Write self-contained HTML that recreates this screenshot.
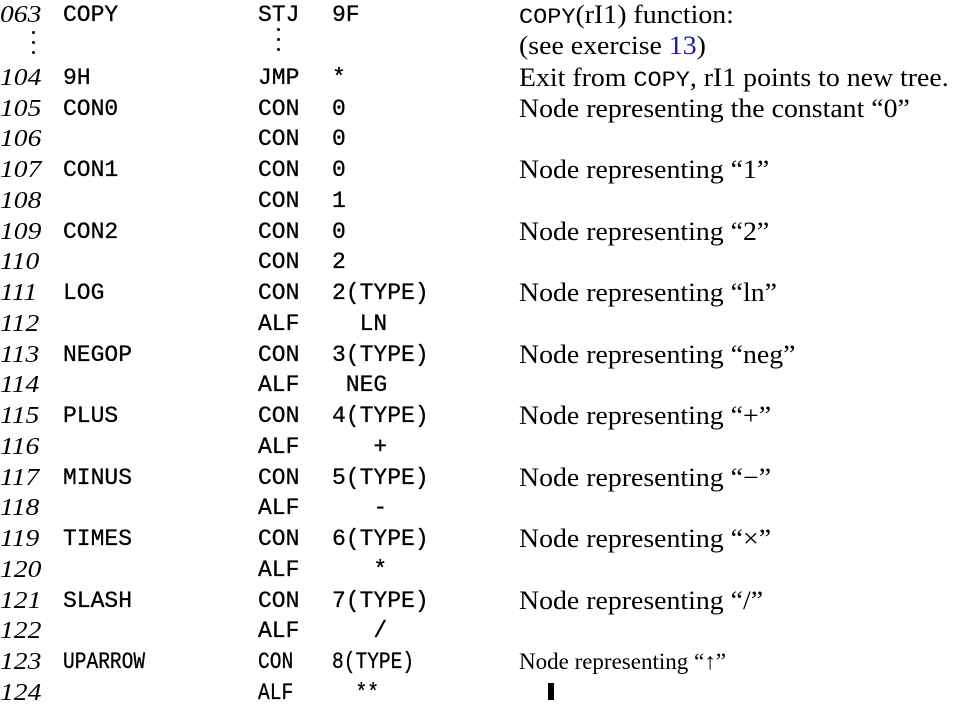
<!DOCTYPE html>
<html><head><meta charset="utf-8"><style>
body{margin:0;background:#fff;width:954px;height:702px;overflow:hidden;position:relative;color:#000}
.r{position:absolute;left:0;height:30px;line-height:30px;white-space:pre}
.n{position:absolute;left:0;font-family:"Liberation Serif",serif;font-style:italic;font-size:24px;transform:scaleX(1.15);transform-origin:left}
.l{position:absolute;left:63px;font-family:"Liberation Mono",monospace;font-size:23px;-webkit-text-stroke:0.3px #000}
.o{position:absolute;left:258px;font-family:"Liberation Mono",monospace;font-size:23px;-webkit-text-stroke:0.3px #000}
.a{position:absolute;left:332px;font-family:"Liberation Mono",monospace;font-size:23px;-webkit-text-stroke:0.3px #000}
.c{position:absolute;left:519px;font-family:"Liberation Serif",serif;font-size:26px;transform:scaleX(1.07);transform-origin:left}
.m{font-family:"Liberation Mono",monospace;font-size:22px}
.cd .l,.cd .o,.cd .a{transform:scaleX(0.85);transform-origin:left}
.cd .c{font-size:23px;transform:scaleX(1)}
.dot{position:absolute;width:3px;height:3px;background:#000;border-radius:50%}
</style></head><body>
<div class="r" style="top:0"><span class="n">063</span><span class="l">COPY</span><span class="o">STJ</span><span class="a">9F</span><span class="c"><span class="m">COPY</span>(rI1) function:</span></div>
<div class="r" style="top:31px"><span class="c">(see exercise <span style="color:#1a1aa6">13</span>)</span></div>
<div class="dot" style="left:32px;top:31px"></div><div class="dot" style="left:32px;top:41px"></div><div class="dot" style="left:32px;top:51px"></div>
<div class="dot" style="left:277px;top:28px"></div><div class="dot" style="left:277px;top:38px"></div><div class="dot" style="left:277px;top:48px"></div>
<div class="r" style="top:63px"><span class="n">104</span><span class="l">9H</span><span class="o">JMP</span><span class="a">*</span><span class="c">Exit from <span class="m">COPY</span>, rI1 points to new tree.</span></div>
<div class="r" style="top:94px"><span class="n">105</span><span class="l">CON0</span><span class="o">CON</span><span class="a">0</span><span class="c">Node representing the constant “0”</span></div>
<div class="r" style="top:124px"><span class="n">106</span><span class="o">CON</span><span class="a">0</span></div>
<div class="r" style="top:155px"><span class="n">107</span><span class="l">CON1</span><span class="o">CON</span><span class="a">0</span><span class="c">Node representing “1”</span></div>
<div class="r" style="top:186px"><span class="n">108</span><span class="o">CON</span><span class="a">1</span></div>
<div class="r" style="top:217px"><span class="n">109</span><span class="l">CON2</span><span class="o">CON</span><span class="a">0</span><span class="c">Node representing “2”</span></div>
<div class="r" style="top:247px"><span class="n">110</span><span class="o">CON</span><span class="a">2</span></div>
<div class="r" style="top:278px"><span class="n">111</span><span class="l">LOG</span><span class="o">CON</span><span class="a">2(TYPE)</span><span class="c">Node representing “ln”</span></div>
<div class="r" style="top:309px"><span class="n">112</span><span class="o">ALF</span><span class="a">  LN</span></div>
<div class="r" style="top:340px"><span class="n">113</span><span class="l">NEGOP</span><span class="o">CON</span><span class="a">3(TYPE)</span><span class="c">Node representing “neg”</span></div>
<div class="r" style="top:370px"><span class="n">114</span><span class="o">ALF</span><span class="a"> NEG</span></div>
<div class="r" style="top:401px"><span class="n">115</span><span class="l">PLUS</span><span class="o">CON</span><span class="a">4(TYPE)</span><span class="c">Node representing “+”</span></div>
<div class="r" style="top:432px"><span class="n">116</span><span class="o">ALF</span><span class="a">   +</span></div>
<div class="r" style="top:463px"><span class="n">117</span><span class="l">MINUS</span><span class="o">CON</span><span class="a">5(TYPE)</span><span class="c">Node representing “−”</span></div>
<div class="r" style="top:493px"><span class="n">118</span><span class="o">ALF</span><span class="a">   -</span></div>
<div class="r" style="top:524px"><span class="n">119</span><span class="l">TIMES</span><span class="o">CON</span><span class="a">6(TYPE)</span><span class="c">Node representing “×”</span></div>
<div class="r" style="top:555px"><span class="n">120</span><span class="o">ALF</span><span class="a">   *</span></div>
<div class="r" style="top:586px"><span class="n">121</span><span class="l">SLASH</span><span class="o">CON</span><span class="a">7(TYPE)</span><span class="c">Node representing “/”</span></div>
<div class="r" style="top:616px"><span class="n">122</span><span class="o">ALF</span><span class="a">   /</span></div>
<div class="r cd" style="top:647px"><span class="n">123</span><span class="l">UPARROW</span><span class="o">CON</span><span class="a">8(TYPE)</span><span class="c">Node representing “↑”</span></div>
<div class="r cd" style="top:678px"><span class="n">124</span><span class="o">ALF</span><span class="a">  **</span></div>
<div style="position:absolute;left:548px;top:683px;width:6px;height:17px;background:#000"></div>
</body></html>
